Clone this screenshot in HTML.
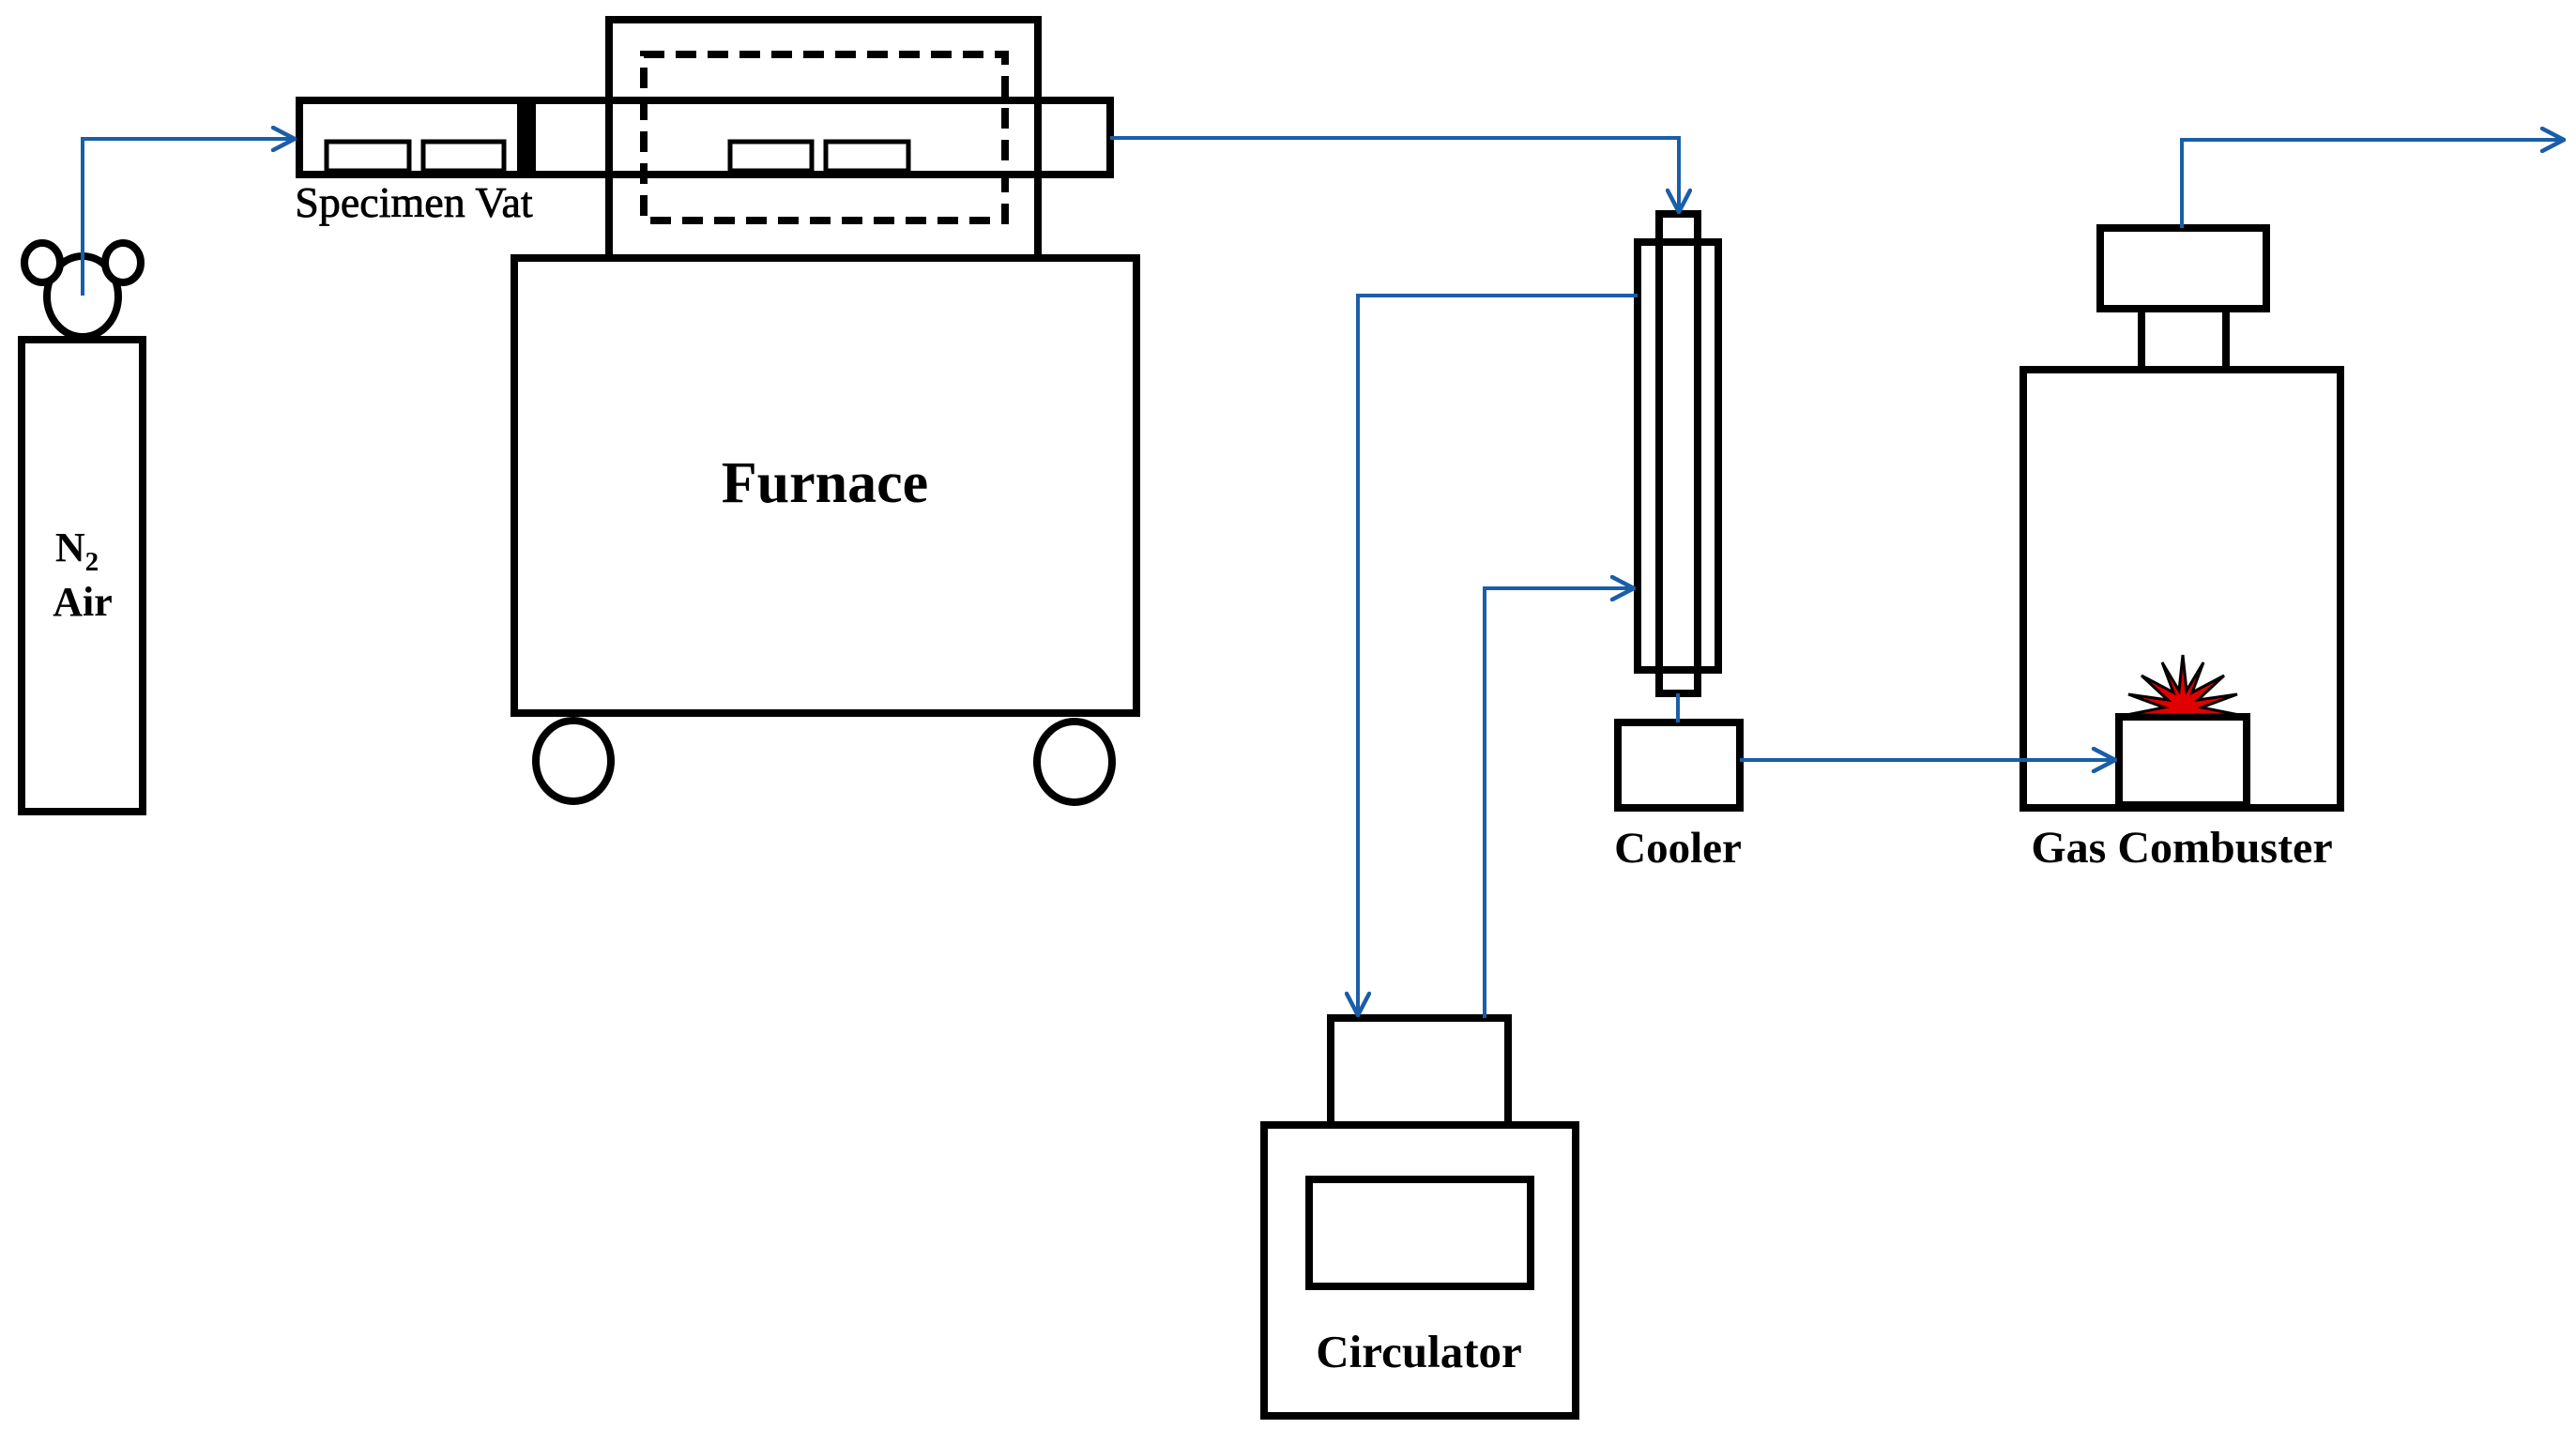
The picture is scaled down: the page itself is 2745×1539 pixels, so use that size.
<!DOCTYPE html>
<html><head><meta charset="utf-8"><style>
html,body{margin:0;padding:0;background:#fff;}
svg{display:block;}
text{font-family:"Liberation Serif",serif;fill:#000;}
</style></head><body>
<svg width="2745" height="1539" viewBox="0 0 2745 1539" xmlns="http://www.w3.org/2000/svg">
<defs>
<marker id="ar" viewBox="0 0 28 28" refX="26" refY="14" markerWidth="28" markerHeight="28" markerUnits="userSpaceOnUse" orient="auto">
<path d="M3,2 L26,14 L3,26" fill="none" stroke="#1a5ea8" stroke-width="4.5" stroke-linecap="round"/>
</marker>
</defs>
<g fill="none" stroke="#000" stroke-width="8">
<rect x="23" y="362" width="129" height="503"/>
<ellipse cx="88" cy="316" rx="38" ry="43" fill="#fff"/>
<ellipse cx="45" cy="280" rx="19" ry="21" fill="#fff"/>
<ellipse cx="131" cy="280" rx="19" ry="21" fill="#fff"/>
<rect x="649" y="21" width="457" height="254"/>
<rect x="686" y="58" width="385" height="177" stroke-dasharray="22,12"/>
<rect x="319" y="107" width="864" height="79"/>
<rect x="348" y="151" width="88" height="31" stroke-width="5"/>
<rect x="451" y="151" width="86" height="31" stroke-width="5"/>
<rect x="778" y="151" width="87" height="31" stroke-width="5"/>
<rect x="880" y="151" width="88" height="31" stroke-width="5"/>
<rect x="548" y="275" width="663" height="485"/>
<ellipse cx="611" cy="811" rx="40" ry="43"/>
<ellipse cx="1145" cy="812" rx="40" ry="43"/>
<rect x="1745" y="258" width="86" height="456"/>
<rect x="1768" y="228" width="41" height="511"/>
<rect x="1724" y="770" width="130" height="91"/>
<rect x="1418" y="1085" width="189" height="114"/>
<rect x="1347" y="1199" width="332" height="310"/>
<rect x="1395" y="1257" width="236" height="114"/>
<rect x="2238" y="243" width="177" height="86"/>
<rect x="2282" y="329" width="90" height="65"/>
<rect x="2156" y="394" width="338" height="467"/>
<rect x="2258" y="764" width="136" height="94"/>
</g>
<rect x="551" y="107" width="20" height="79" fill="#000"/>
<line x1="1788" y1="739" x2="1788" y2="770" stroke="#1a5ea8" stroke-width="4"/>
<polygon points="2266,762 2306,754 2268,740 2310,746 2282,720 2316,738 2304,706 2322,736 2326,698 2330,736 2348,706 2336,738 2370,720 2342,746 2384,740 2346,754 2386,762" fill="#e00000" stroke="#000" stroke-width="3"/>
<g fill="none" stroke="#1a5ea8" stroke-width="4">
<polyline points="88,315 88,148 314,148" marker-end="url(#ar)"/>
<polyline points="1183,147 1789,147 1789,226" marker-end="url(#ar)"/>
<polyline points="1745,315 1447,315 1447,1082" marker-end="url(#ar)"/>
<polyline points="1582,1085 1582,627 1741,627" marker-end="url(#ar)"/>
<polyline points="1854,810 2254,810" marker-end="url(#ar)"/>
<polyline points="2325,243 2325,149 2732,149" marker-end="url(#ar)"/>
</g>
<text x="441" y="231" font-size="46" text-anchor="middle" stroke="#000" stroke-width="0.8">Specimen Vat</text>
<text x="879" y="535" font-size="62" font-weight="bold" text-anchor="middle">Furnace</text>
<text x="82" y="598" font-size="44" font-weight="bold" text-anchor="middle">N<tspan font-size="29" dy="10">2</tspan></text>
<text x="88" y="656" font-size="44" font-weight="bold" text-anchor="middle">Air</text>
<text x="1788" y="919" font-size="47" font-weight="bold" text-anchor="middle">Cooler</text>
<text x="2325" y="919" font-size="48" font-weight="bold" text-anchor="middle">Gas Combuster</text>
<text x="1512" y="1457" font-size="49" font-weight="bold" text-anchor="middle">Circulator</text>
</svg>
</body></html>
